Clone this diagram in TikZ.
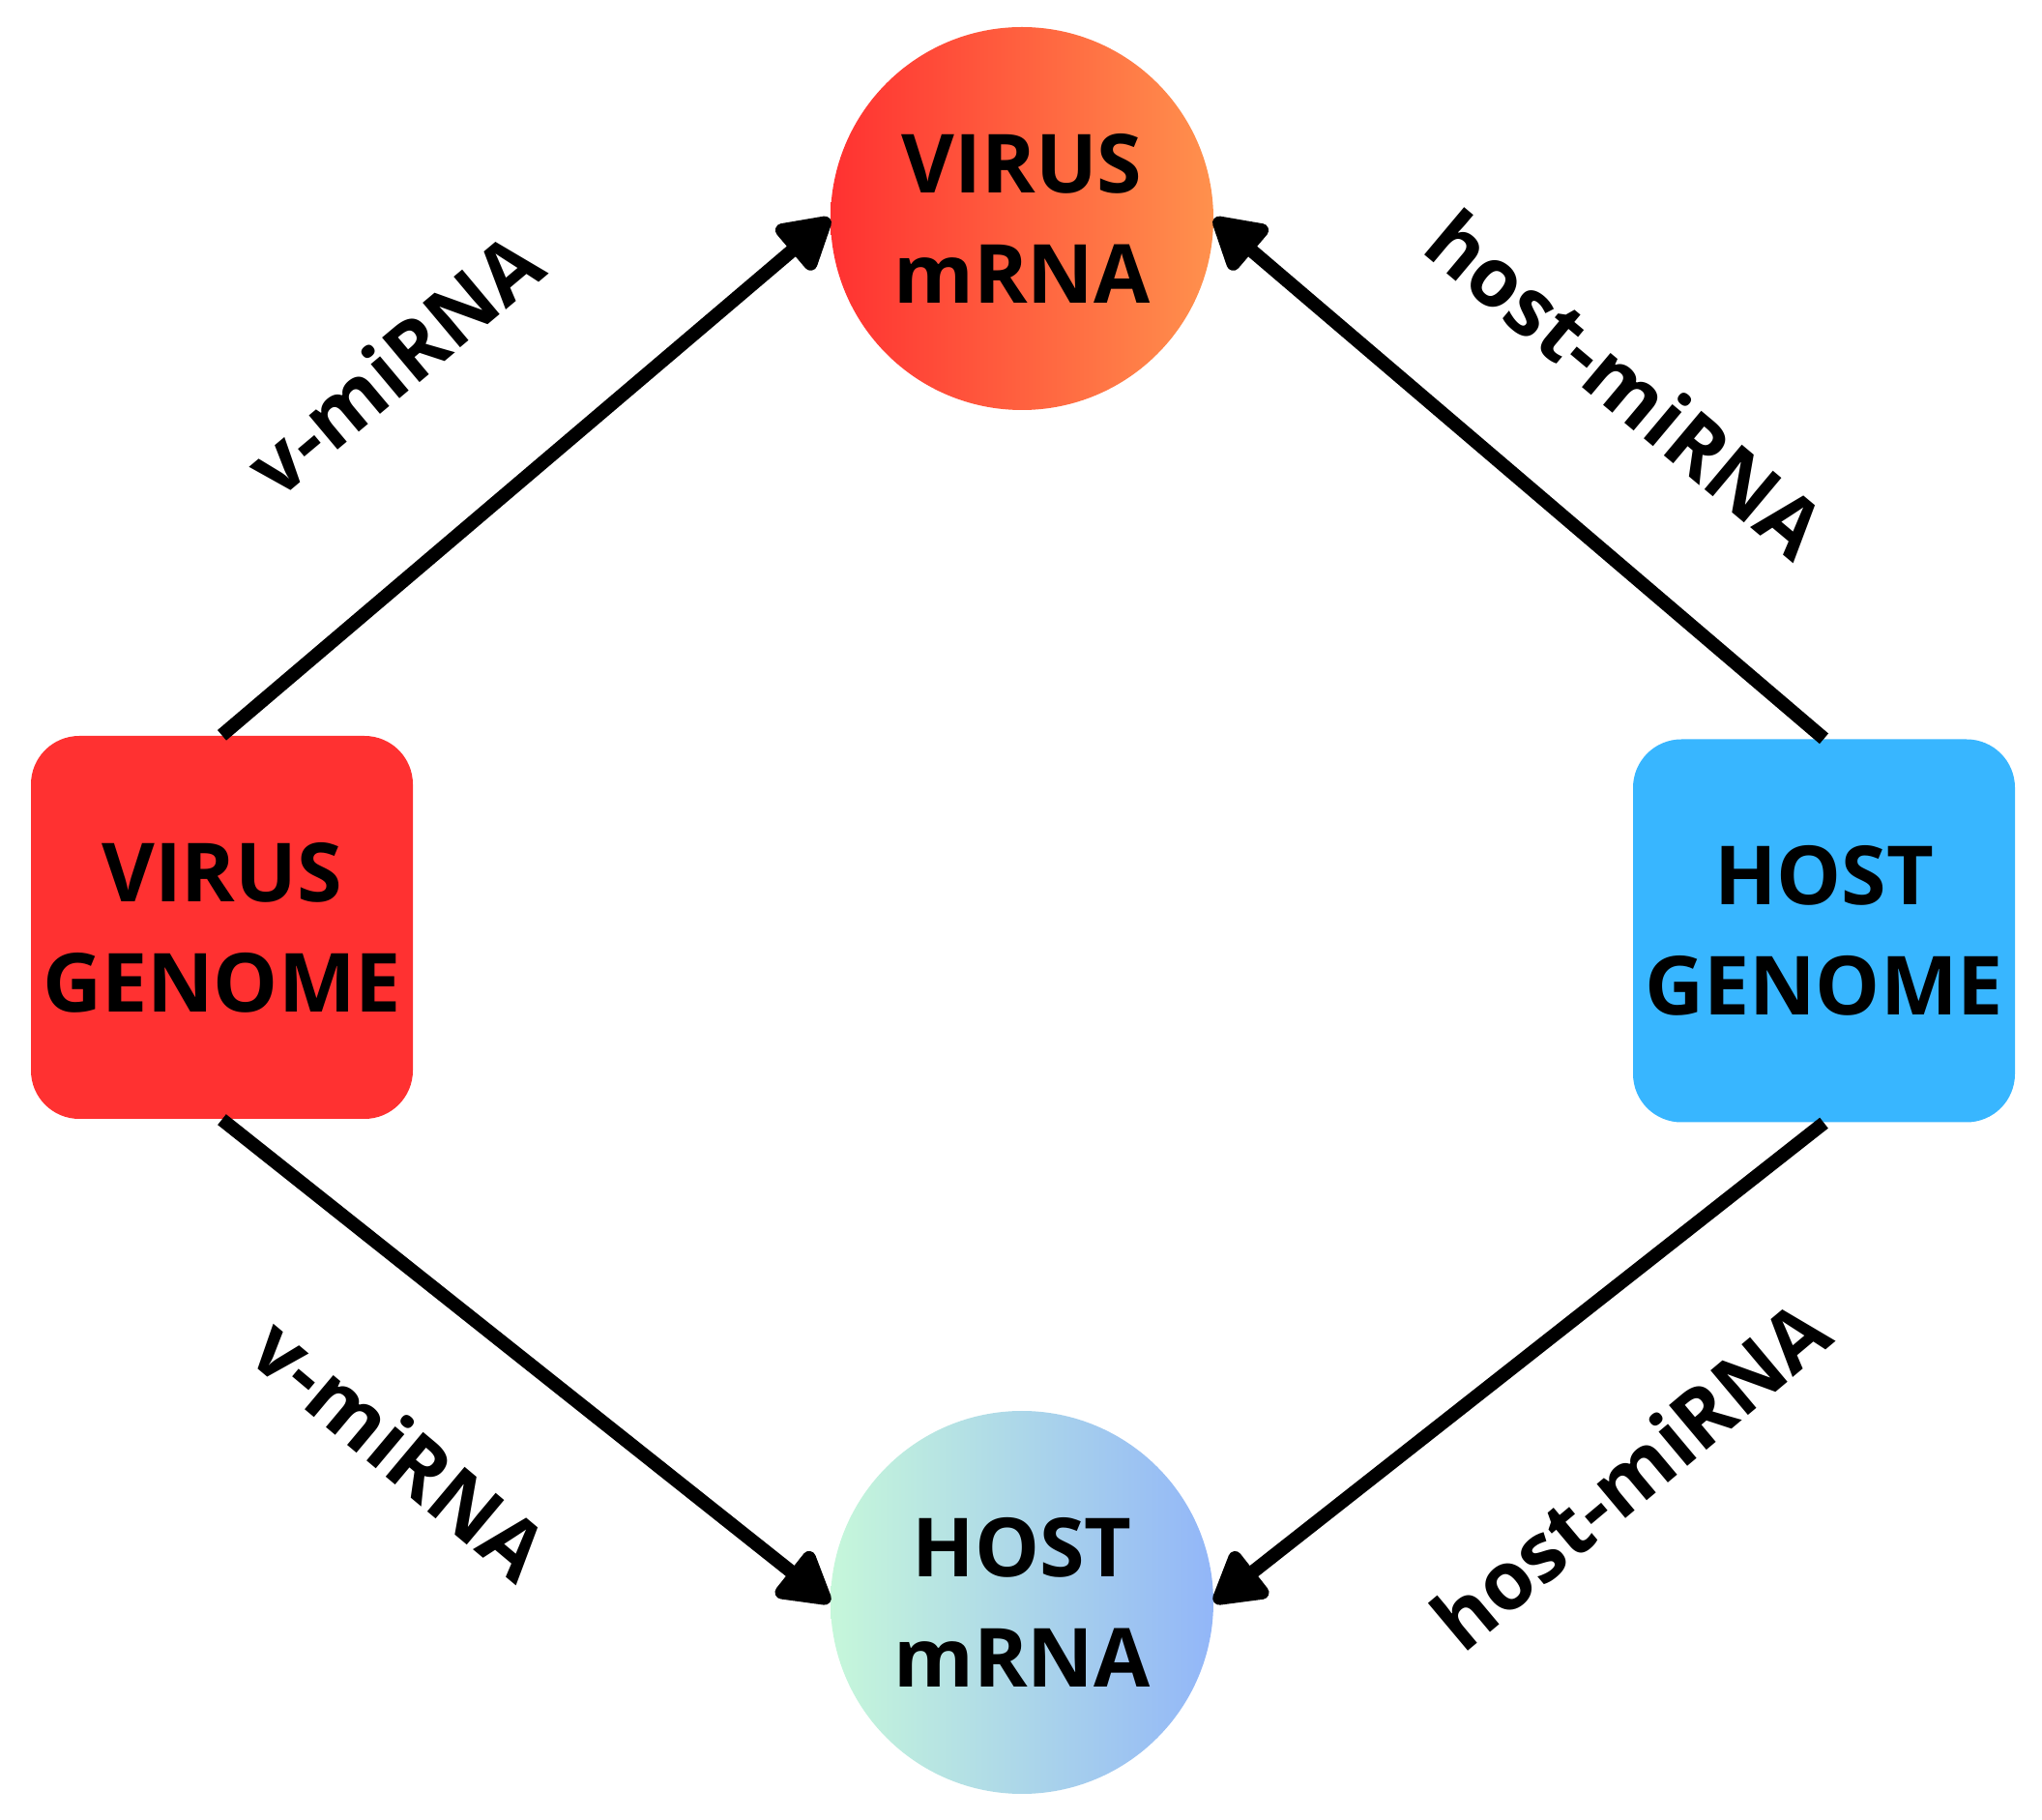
\documentclass[tikz,border=0pt]{standalone}
\usepackage{fontspec}
\setmainfont{Open Sans}
\usetikzlibrary{arrows.meta}

\definecolor{virusred}{HTML}{FF3131}
\definecolor{virusorange}{HTML}{FF914D}
\definecolor{hostblue}{HTML}{38B6FF}
\definecolor{hostmint}{HTML}{C6F7DA}
\definecolor{hostsky}{HTML}{92B6F8}

\begin{document}
\begin{tikzpicture}[
    genome/.style={rectangle, rounded corners=0.5cm, minimum width=3.95cm,
      minimum height=3.96cm, align=center, font=\fontsize{24}{32.5}\selectfont\bfseries},
    mrna/.style={circle, minimum size=3.96cm, inner sep=0pt, align=center,
      font=\fontsize{24}{32.5}\selectfont\bfseries},
    mirna/.style={font=\fontsize{24}{28}\selectfont\bfseries},
    link/.style={line width=0.14cm, -{Triangle[length=0.6cm,width=0.66cm,round]}}
  ]
  \useasboundingbox (0,0) rectangle (21.12,18.81);

  % --- UZLY ---
  % mRNA nahore a dole
  \node[mrna, left color=virusred, right color=virusorange] (vmrna) at (10.57,16.55) {VIRUS\\mRNA};
  \node[mrna, left color=hostmint, right color=hostsky] (hmrna) at (10.57,2.24) {HOST\\mRNA};

  % genomy vlevo a vpravo
  \node[genome, fill=virusred] (vgenome) at (2.295,9.22) {VIRUS\\GENOME};
  \node[genome, fill=hostblue] (hgenome) at (18.865,9.185) {HOST\\GENOME};

  % --- SIPKY ---
  \draw[link] (vgenome.north) -- (vmrna.west);
  \draw[link] (hgenome.north) -- (vmrna.east);
  \draw[link] (vgenome.south) -- (hmrna.west);
  \draw[link] (hgenome.south) -- (hmrna.east);

  % --- POPISKY ---
  \node[mirna, rotate=40] (vtop) at (4.07,15.05) {v-miRNA};
  \node[mirna, rotate=-40] (htop) at (16.82,14.84) {host-miRNA};
  \node[mirna, rotate=-40] (vbot) at (4.14,3.83) {v-miRNA};
  \node[mirna, rotate=40] (hbot) at (16.86,3.56) {host-miRNA};

\end{tikzpicture}
\end{document}
